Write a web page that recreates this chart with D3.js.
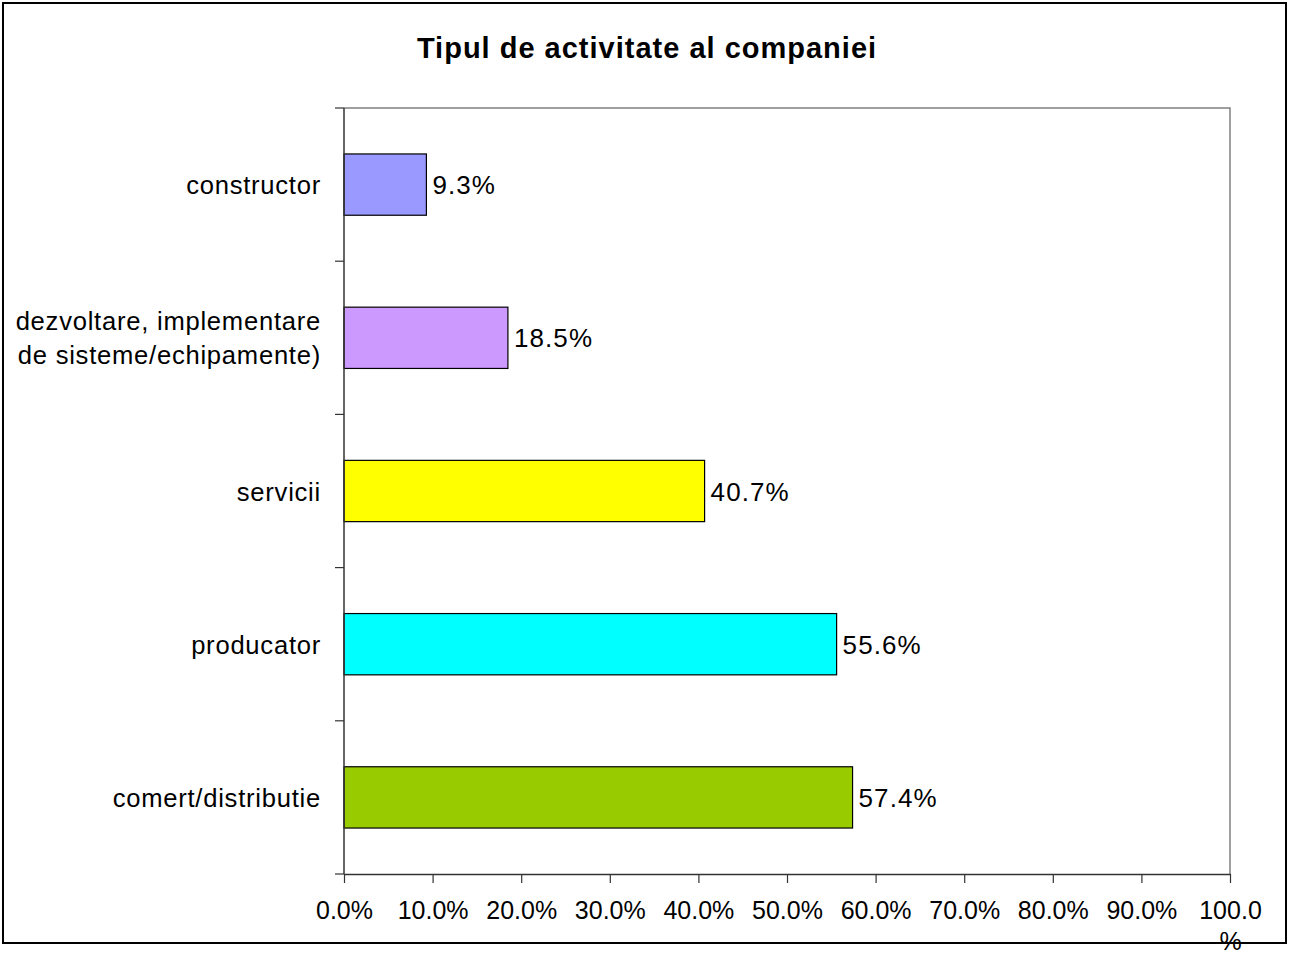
<!DOCTYPE html>
<html>
<head>
<meta charset="utf-8">
<script src="https://cdn.jsdelivr.net/npm/d3@7"></script>
<style>
  html, body { margin: 0; padding: 0; background: #fff; }
  svg { display: block; }
  text { font-family: "Liberation Sans", Arial, sans-serif; fill: #000; }
</style>
</head>
<body>
<svg id="chart" width="1289" height="954"></svg>
<script>
const title = "Tipul de activitate al companiei";
const categories = [
  ["constructor"],
  ["dezvoltare, implementare", "de sisteme/echipamente)"],
  ["servicii"],
  ["producator"],
  ["comert/distributie"]
];
const values = [9.3, 18.5, 40.7, 55.6, 57.4];
const colors = ["#9999FF", "#CC99FF", "#FFFF00", "#00FFFF", "#99CC00"];
const xTicks = [0, 10, 20, 30, 40, 50, 60, 70, 80, 90, 100];

const svg = d3.select("#chart");
const plot = { left: 344, right: 1230, top: 108, bottom: 874 };

// outer border
svg.append("rect")
  .attr("x", 3).attr("y", 3).attr("width", 1283).attr("height", 940)
  .attr("fill", "#fff").attr("stroke", "#000").attr("stroke-width", 2);

// title
svg.append("text")
  .attr("x", 647).attr("y", 58)
  .attr("text-anchor", "middle")
  .style("font-size", "29px").style("font-weight", "bold")
  .style("letter-spacing", "1px")
  .text(title);

const x = d3.scaleLinear().domain([0, 100]).range([plot.left, plot.right]);
const y = d3.scaleBand().domain(d3.range(categories.length))
  .range([plot.top, plot.bottom]).paddingInner(0.6).paddingOuter(0.3);

// plot area frame (top and right, gray)
svg.append("path")
  .attr("d", `M${plot.left},${plot.top}H${plot.right}V${plot.bottom}`)
  .attr("fill", "none").attr("stroke", "#808080").attr("stroke-width", 1.5);

// bars
svg.append("g").selectAll("rect")
  .data(values)
  .join("rect")
  .attr("x", x(0))
  .attr("y", (d, i) => y(i))
  .attr("width", d => x(d) - x(0))
  .attr("height", y.bandwidth())
  .attr("fill", (d, i) => colors[i])
  .attr("stroke", "#000").attr("stroke-width", 1.2);

// data labels
svg.append("g").selectAll("text")
  .data(values)
  .join("text")
  .attr("x", d => x(d) + 6)
  .attr("y", (d, i) => y(i) + y.bandwidth() / 2 + 9.5)
  .style("font-size", "26px").style("letter-spacing", "1.1px")
  .text(d => d.toFixed(1) + "%");

// x axis
const xAxis = svg.append("g")
  .attr("transform", `translate(0,${plot.bottom})`)
  .call(d3.axisBottom(x).tickValues(xTicks).tickSize(9).tickSizeOuter(0).tickPadding(0)
    .tickFormat(d => d.toFixed(1) + "%"));
xAxis.select(".domain").attr("stroke", "#333").attr("stroke-width", 1.5);
xAxis.selectAll(".tick line").attr("stroke", "#333").attr("stroke-width", 1.2);
xAxis.selectAll(".tick text")
  .attr("y", 45).attr("dy", null)
  .style("font-size", "25px").style("font-family", "'Liberation Sans', Arial, sans-serif")
  .attr("fill", "#000");
// last tick label wraps as in the original
xAxis.selectAll(".tick text").filter(d => d === 100)
  .text(null)
  .call(t => {
    t.append("tspan").attr("x", 0).attr("y", 45).text("100.0");
    t.append("tspan").attr("x", 0).attr("y", 76).text("%");
  });

// y axis (category separators)
const yLine = d3.scaleLinear().domain([0, categories.length]).range([plot.top, plot.bottom]);
const yAxis = svg.append("g").attr("transform", `translate(${plot.left},0)`);
yAxis.append("line")
  .attr("x1", 0).attr("x2", 0).attr("y1", plot.top).attr("y2", plot.bottom)
  .attr("stroke", "#333").attr("stroke-width", 1.5);
yAxis.selectAll("line.tick")
  .data(d3.range(categories.length + 1))
  .join("line").attr("class", "tick")
  .attr("x1", -9).attr("x2", 0)
  .attr("y1", d => yLine(d)).attr("y2", d => yLine(d))
  .attr("stroke", "#333").attr("stroke-width", 1.2);

// category labels
const labels = svg.append("g").selectAll("text")
  .data(categories)
  .join("text")
  .attr("text-anchor", "end")
  .style("font-size", "25.6px").style("letter-spacing", "0.75px");
labels.each(function(lines, i) {
  const cy = y(i) + y.bandwidth() / 2;
  const n = lines.length;
  d3.select(this).selectAll("tspan")
    .data(lines)
    .join("tspan")
    .attr("x", 321)
    .attr("y", (l, j) => cy + 9.5 + (j - (n - 1) / 2) * 34)
    .text(l => l);
});
</script>
</body>
</html>
